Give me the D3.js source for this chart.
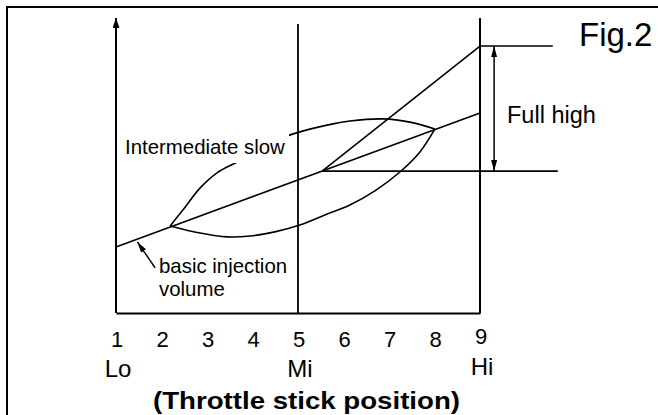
<!DOCTYPE html>
<html>
<head>
<meta charset="utf-8">
<script src="https://cdn.jsdelivr.net/npm/d3@7"></script>
<style>
  html, body { margin: 0; padding: 0; background: #fff; }
  svg { display: block; font-family: "Liberation Sans", Arial, Helvetica, sans-serif; }
</style>
</head>
<body>
<svg id="chart" width="658" height="415"></svg>
<script>
// ---------- data ----------
const tickValues = [1, 2, 3, 4, 5, 6, 7, 8, 9];
const tickLabels = ["1", "2", "3", "4", "5", "6", "7", "8", "9"];
const zoneLabels = ["Lo", "Mi", "Hi"];
const zonePositions = [1, 5, 9];
const midLinePosition = 5;
const midLineTop = 98;
// basic injection volume (throttle position, volume)
const basicX = [1, 9];
const basicY = [22.4, 67.8];
// intermediate slow lens, upper & lower arcs
const upperX = [2.19, 2.47, 2.85, 3.22, 3.66, 4.16, 4.71, 5.04, 5.77, 6.14, 6.87, 7.46, 8.01];
const upperY = [29.5, 34.9, 42.4, 47.5, 51.2, 55.6, 59.7, 61.4, 64.1, 65.1, 65.8, 64.7, 62.4];
const lowerX = [2.19, 2.85, 3.44, 3.95, 4.49, 5.04, 5.59, 6.14, 6.69, 7.24, 7.68, 8.01];
const lowerY = [29.5, 27.1, 25.8, 26.1, 27.5, 29.8, 33.2, 36.6, 41.4, 47.8, 54.6, 62.4];
// full high
const highStartX = 5.53, highStartY = 48.1;
const highEndX = 9, highEndY = 90.5;
const highTopEndX = 10.6;
const highBaseEndX = 10.71;
const fullHighArrowX = 9.31;
// basic injection pointer (tail -> head)
const pointerX = [1.86, 1.47];
const pointerY = [15.3, 24.1];

// ---------- scales ----------
const svg = d3.select("#chart");
const x = d3.scaleLinear().domain([1, 9]).range([116, 480]);
const y = d3.scaleLinear().domain([0, 100]).range([313, 18]);
const line = d3.line().x(d => x(d[0])).y(d => y(d[1]));
const curve = d3.line().x(d => x(d[0])).y(d => y(d[1])).curve(d3.curveCatmullRom.alpha(0.5));

// arrow markers
const defs = svg.append("defs");
function marker(id, w, l) {
  defs.append("marker").attr("id", id)
    .attr("viewBox", `0 ${-w} ${l} ${2 * w}`)
    .attr("refX", l).attr("refY", 0)
    .attr("markerUnits", "userSpaceOnUse")
    .attr("markerWidth", l).attr("markerHeight", 2 * w)
    .attr("orient", "auto-start-reverse")
    .append("path").attr("d", `M0,${-w}L${l},0L0,${w}Z`).attr("fill", "#000");
}
marker("arrowAxis", 3.5, 10);
marker("arrowSmall", 3, 11);

// outer frame (top and left edges)
svg.append("path").attr("d", "M7,415V7H658").attr("fill", "none").attr("stroke", "#000").attr("stroke-width", 2);

const g = svg.append("g").attr("stroke", "#000").attr("fill", "none").attr("stroke-width", 1.6);

// y axis with arrow
g.append("line").attr("x1", x(1)).attr("x2", x(1)).attr("y1", y(0)).attr("y2", y(100))
  .attr("stroke-width", 2).attr("marker-end", "url(#arrowAxis)");
// right boundary (Hi)
g.append("line").attr("x1", x(9)).attr("x2", x(9)).attr("y1", y(0)).attr("y2", y(100)).attr("stroke-width", 2);
// middle line (Mi)
g.append("line").attr("x1", x(midLinePosition)).attr("x2", x(midLinePosition)).attr("y1", y(0)).attr("y2", y(midLineTop)).attr("stroke-width", 1.8);

// x axis
const xAxis = d3.axisBottom(x).tickValues(tickValues).tickFormat((d, i) => tickLabels[i]).tickSize(0).tickPadding(18);
const ax = svg.append("g").attr("transform", `translate(0,${y(0)})`).call(xAxis);
ax.select(".domain").attr("stroke", "#000").attr("stroke-width", 2);
ax.selectAll("text").attr("font-size", 22).attr("fill", "#000").attr("font-family", "Liberation Sans, Arial, sans-serif");
ax.selectAll(".tick").attr("transform", d => `translate(${x(d) + 1},0)`);
ax.selectAll(".tick").filter(d => d === 9).select("text").attr("y", 15);

// zone labels
svg.append("g").selectAll("text").data(zoneLabels).join("text")
  .attr("x", (d, i) => x(zonePositions[i]) + 2)
  .attr("y", (d, i) => i === 2 ? 375 : 377)
  .attr("text-anchor", "middle").attr("font-size", 24).text(d => d);

// title
svg.append("text").attr("x", 153).attr("y", 409).attr("font-size", 24).attr("font-weight", "bold")
  .attr("textLength", 307).attr("lengthAdjust", "spacingAndGlyphs")
  .text("(Throttle stick position)");

// lens
g.append("path").attr("d", curve(upperX.map((v, i) => [v, upperY[i]])));
g.append("path").attr("d", curve(lowerX.map((v, i) => [v, lowerY[i]])));

// basic line
g.append("path").attr("d", line(basicX.map((v, i) => [v, basicY[i]])));

// full high lines
g.append("path").attr("d", line([[highStartX, highStartY], [highEndX, highEndY]]));
g.append("path").attr("d", line([[highEndX, highEndY], [highTopEndX, highEndY]]));
g.append("path").attr("d", line([[highStartX, highStartY], [highBaseEndX, highStartY]]));
// full high double arrow
g.append("line").attr("x1", x(fullHighArrowX)).attr("x2", x(fullHighArrowX))
  .attr("y1", y(highEndY)).attr("y2", y(highStartY)).attr("stroke-width", 1.5)
  .attr("marker-start", "url(#arrowSmall)").attr("marker-end", "url(#arrowSmall)");

// pointer for basic injection
g.append("line").attr("x1", x(pointerX[0])).attr("y1", y(pointerY[0]))
  .attr("x2", x(pointerX[1])).attr("y2", y(pointerY[1])).attr("stroke-width", 1.5)
  .attr("marker-end", "url(#arrowSmall)");

// Intermediate slow label with white background
const lab = svg.append("g");
lab.append("rect").attr("x", 121).attr("y", 134).attr("width", 168).attr("height", 29).attr("fill", "#fff");
lab.append("text").attr("x", 125).attr("y", 154).attr("font-size", 20.4).text("Intermediate slow");

// basic injection volume label
svg.append("text").attr("x", 159).attr("y", 273).attr("font-size", 20.4).text("basic injection");
svg.append("text").attr("x", 159).attr("y", 296).attr("font-size", 20.4).text("volume");

// Full high label
svg.append("text").attr("x", 507).attr("y", 123).attr("font-size", 23.5).text("Full high");

// Fig.2
svg.append("text").attr("x", 579).attr("y", 46).attr("font-size", 33).text("Fig.2");
</script>
</body>
</html>
